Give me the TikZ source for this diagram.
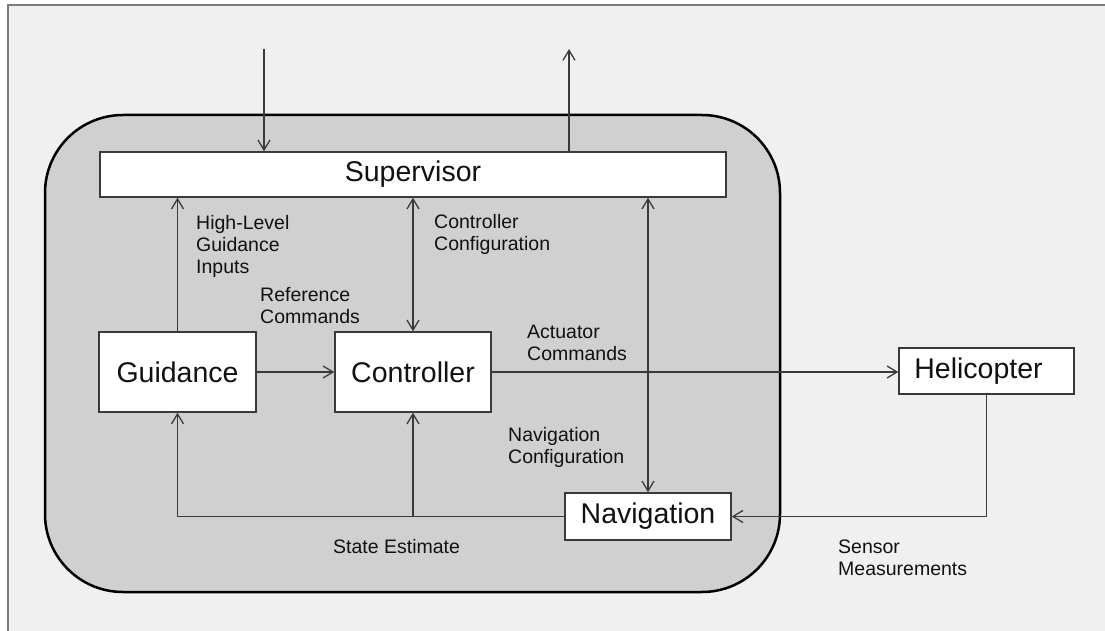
\documentclass[tikz,border=0pt]{standalone}
\usepackage{fontspec}
\setmainfont{Liberation Sans}
\usetikzlibrary{arrows.meta}
\definecolor{pagebg}{HTML}{F0F0F0}
\definecolor{framegray}{HTML}{7C7C7C}
\definecolor{panelgray}{HTML}{D0D0D0}
\definecolor{wire}{HTML}{3A3A3A}
\definecolor{ink}{HTML}{111111}

\begin{document}
\begin{tikzpicture}[x=1pt,y=-1pt,
  block/.style={draw=wire, line width=1.4pt, fill=white, inner sep=0pt,
    font=\fontsize{28.5}{32}\selectfont, text=ink},
  tag/.style={anchor=north west, inner sep=0pt, align=left,
    font=\fontsize{19.5}{22}\selectfont, text=ink},
  flow/.style={draw=wire, line width=1.3pt,
    -{Straight Barb[length=10pt,width=12pt]}},
  dualflow/.style={draw=wire, line width=1.3pt,
    {Straight Barb[length=10pt,width=12pt]}-{Straight Barb[length=10pt,width=12pt]}},
  wireline/.style={draw=wire, line width=1.3pt}
]
% page and frame
\useasboundingbox (0,0) rectangle (1105,631);
\fill[white] (0,0) rectangle (1105,631);
\fill[pagebg] (8,5) rectangle (1105,631);
\draw[framegray, line width=2pt] (8,631) -- (8,5) -- (1105,5);

% autopilot panel
\draw[black, line width=2.5pt, fill=panelgray, rounded corners=78pt]
  (45,115) rectangle (780,592);

% blocks
\node[block, minimum width=626pt, minimum height=45pt] (sup) at (413,174.5) {Supervisor};
\node[block, minimum width=157pt, minimum height=80pt] (guid) at (177.5,372) {Guidance};
\node[block, minimum width=156pt, minimum height=80pt] (ctrl) at (413,372) {Controller};
\node[block, minimum width=175pt, minimum height=46pt] (heli) at (986.5,371) {Helicopter\hspace*{16pt}};
\node[block, minimum width=166pt, minimum height=47pt] (nav) at (648,516.5) {Navigation};

% external links of the supervisor
\coordinate (extin) at (264,49);
\coordinate (extout) at (569,49);
\draw[flow] (extin) -- (extin |- sup.north);
\draw[flow] (extout |- sup.north) -- (extout);

% internal signal flow
\draw[flow] (guid.north) -- (guid.north |- sup.south);
\draw[dualflow] (ctrl.north |- sup.south) -- (ctrl.north);
\draw[dualflow] (nav.north |- sup.south) -- (nav.north);
\draw[flow] (guid.east) -- (ctrl.west);
\draw[flow] (ctrl.east) -- (ctrl.east -| heli.west);
\draw[flow] (heli.south) |- (nav.east);
\draw[flow] (nav.west) -| (guid.south);
\draw[flow] (ctrl.south |- nav.west) -- (ctrl.south);

% signal labels
\node[tag] (lblhigh) at (196,215.5) {High-Level\\Guidance\\Inputs};
\node[tag] (lblref) at (260,287.5) {Reference\\Commands};
\node[tag] (lblccfg) at (434,214.5) {Controller\\Configuration};
\node[tag] (lblact) at (527,324.5) {Actuator\\Commands};
\node[tag] (lblncfg) at (508,427.5) {Navigation\\Configuration};
\node[tag] (lblstate) at (333,539.5) {State Estimate};
\node[tag] (lblsens) at (838,539.5) {Sensor\\Measurements};
\end{tikzpicture}
\end{document}
